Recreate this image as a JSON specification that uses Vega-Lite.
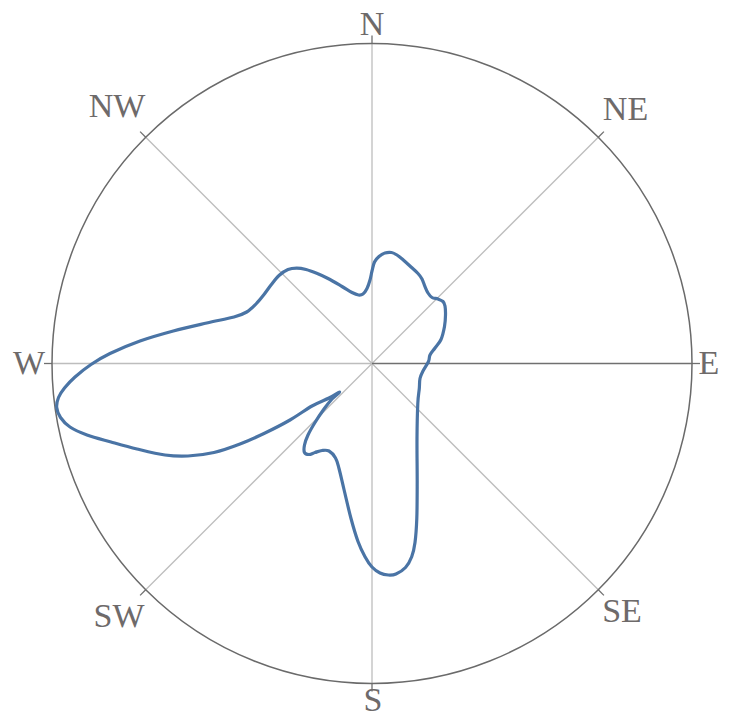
{
  "$schema": "https://vega.github.io/schema/vega-lite/v6.json",
  "width": 733,
  "height": 728,
  "autosize": {"type": "none"},
  "padding": 0,
  "config": {"view": {"stroke": null}},
  "datasets": {
    "curve": [
      {"i": 1, "x": 0, "y": 92.5}, {"i": 2, "x": 2.5, "y": 101.5}, {"i": 3, "x": 7, "y": 107},
      {"i": 4, "x": 13, "y": 110.5}, {"i": 5, "x": 19.5, "y": 111}, {"i": 6, "x": 25, "y": 108.5},
      {"i": 7, "x": 31.3, "y": 103.5}, {"i": 8, "x": 39, "y": 96.5}, {"i": 9, "x": 46, "y": 90},
      {"i": 10, "x": 50, "y": 84.5}, {"i": 11, "x": 53, "y": 76.8}, {"i": 12, "x": 56, "y": 70.5},
      {"i": 13, "x": 60, "y": 66}, {"i": 14, "x": 66, "y": 64.5}, {"i": 15, "x": 71, "y": 62},
      {"i": 16, "x": 73, "y": 57.5}, {"i": 17, "x": 73.5, "y": 48.5}, {"i": 18, "x": 72.5, "y": 37},
      {"i": 19, "x": 69, "y": 24}, {"i": 20, "x": 63, "y": 15.5},
      {"i": 21, "x": 58, "y": 8.5}, {"i": 22, "x": 56.5, "y": 2}, 
      {"i": 23, "x": 51, "y": -7.5}, {"i": 24, "x": 48, "y": -15},
      {"i": 25, "x": 47.3, "y": -25}, {"i": 26, "x": 45.8, "y": -40},
      {"i": 27, "x": 45, "y": -75}, {"i": 28, "x": 45.2, "y": -120}, {"i": 29, "x": 44.8, "y": -155},
      {"i": 30, "x": 43, "y": -179}, {"i": 31, "x": 39.7, "y": -193.2}, {"i": 32, "x": 33.5, "y": -204},
      {"i": 33, "x": 24, "y": -210.5}, {"i": 34, "x": 16.3, "y": -211.5},
      {"i": 35, "x": 8, "y": -209.5}, {"i": 36, "x": 0, "y": -203.5},
      {"i": 37, "x": -7, "y": -193.2}, {"i": 38, "x": -14, "y": -178},
      {"i": 39, "x": -21, "y": -155}, {"i": 40, "x": -28, "y": -126},
      {"i": 41, "x": -33, "y": -105}, {"i": 42, "x": -36.5, "y": -94.5},
      {"i": 43, "x": -43, "y": -87.5}, {"i": 44, "x": -50, "y": -87}, {"i": 45, "x": -57, "y": -89},
      {"i": 46, "x": -63, "y": -91}, {"i": 47, "x": -67.5, "y": -89},
      {"i": 48, "x": -67.5, "y": -81.5}, {"i": 49, "x": -64, "y": -71.5},
      {"i": 50, "x": -57, "y": -59}, {"i": 51, "x": -48, "y": -45.5},
      {"i": 52, "x": -40, "y": -35.5}, {"i": 53, "x": -32.5, "y": -28.5}, {"i": 54, "x": -43, "y": -34.5},
      {"i": 55, "x": -60, "y": -42.5}, {"i": 56, "x": -82, "y": -56.5},
      {"i": 57, "x": -107, "y": -69.5}, {"i": 58, "x": -132, "y": -80.5},
      {"i": 59, "x": -158, "y": -89}, {"i": 60, "x": -184, "y": -92.5},
      {"i": 61, "x": -207, "y": -91.5}, {"i": 62, "x": -235, "y": -85.5},
      {"i": 63, "x": -261, "y": -78.5}, {"i": 64, "x": -285, "y": -71.5},
      {"i": 65, "x": -302, "y": -63.5}, {"i": 66, "x": -311.5, "y": -54},
      {"i": 67, "x": -315.3, "y": -44}, {"i": 68, "x": -313.5, "y": -34},
      {"i": 69, "x": -307.5, "y": -24.5}, {"i": 70, "x": -297, "y": -13.5},
      {"i": 71, "x": -281, "y": -1}, {"i": 72, "x": -262, "y": 10},
      {"i": 73, "x": -232, "y": 22.5}, {"i": 74, "x": -198.7, "y": 32.5},
      {"i": 75, "x": -165.3, "y": 40.5}, {"i": 76, "x": -138, "y": 46.5},
      {"i": 77, "x": -125.3, "y": 51.5}, {"i": 78, "x": -116, "y": 59.5},
      {"i": 79, "x": -108, "y": 69}, {"i": 80, "x": -101, "y": 78.5},
      {"i": 81, "x": -93, "y": 88}, {"i": 82, "x": -84, "y": 94}, {"i": 83, "x": -75.3, "y": 95.4},
      {"i": 84, "x": -66, "y": 94}, {"i": 85, "x": -55.3, "y": 90.2}, {"i": 86, "x": -44, "y": 85},
      {"i": 87, "x": -30, "y": 77}, {"i": 88, "x": -20, "y": 71},
      {"i": 89, "x": -13.5, "y": 68.5}, {"i": 90, "x": -9, "y": 69.5},
      {"i": 91, "x": -5, "y": 75}, {"i": 92, "x": -2, "y": 83.5}
    ],
    "lightSpokes": [
      {"x": 0, "y": 320, "x2": 0, "y2": -320},
      {"x": -320, "y": 0, "x2": 0, "y2": 0},
      {"x": -226.3, "y": 226.3, "x2": 226.3, "y2": -226.3},
      {"x": -226.3, "y": -226.3, "x2": 226.3, "y2": 226.3}
    ],
    "darkSpokes": [
      {"x": 0, "y": 0, "x2": 320, "y2": 0}
    ],
    "ticks": [
      {"x": 0, "y": 320, "x2": 0, "y2": 328},
      {"x": 226.3, "y": 226.3, "x2": 231.9, "y2": 231.9},
      {"x": 320, "y": 0, "x2": 328, "y2": 0},
      {"x": 226.3, "y": -226.3, "x2": 231.9, "y2": -231.9},
      {"x": 0, "y": -320, "x2": 0, "y2": -328},
      {"x": -226.3, "y": -226.3, "x2": -231.9, "y2": -231.9},
      {"x": -320, "y": 0, "x2": -328, "y2": 0},
      {"x": -226.3, "y": 226.3, "x2": -231.9, "y2": 231.9}
    ],
    "ring": [{"x": 0, "y": 0}],
    "labels": [
      {"label": "N", "x": 0, "y": 338.5},
      {"label": "NE", "x": 253.5, "y": 253.5},
      {"label": "E", "x": 337, "y": 0},
      {"label": "SE", "x": 250, "y": -248.5},
      {"label": "S", "x": 1, "y": -337.5},
      {"label": "SW", "x": -253, "y": -253},
      {"label": "W", "x": -343, "y": 0},
      {"label": "NW", "x": -255, "y": 256.5}
    ]
  },
  "layer": [
    {
      "data": {"name": "lightSpokes"},
      "mark": {"type": "rule", "color": "#bdbdbd", "strokeWidth": 1.3},
      "encoding": {
        "x": {"field": "x", "type": "quantitative", "scale": {"domain": [-372, 361], "nice": false, "zero": false}, "axis": null},
        "y": {"field": "y", "type": "quantitative", "scale": {"domain": [-364.5, 363.5], "nice": false, "zero": false}, "axis": null},
        "x2": {"field": "x2"},
        "y2": {"field": "y2"}
      }
    },
    {
      "data": {"name": "darkSpokes"},
      "mark": {"type": "rule", "color": "#707070", "strokeWidth": 1.3},
      "encoding": {
        "x": {"field": "x", "type": "quantitative"},
        "y": {"field": "y", "type": "quantitative"},
        "x2": {"field": "x2"},
        "y2": {"field": "y2"}
      }
    },
    {
      "data": {"name": "ticks"},
      "mark": {"type": "rule", "color": "#707070", "strokeWidth": 1.3},
      "encoding": {
        "x": {"field": "x", "type": "quantitative"},
        "y": {"field": "y", "type": "quantitative"},
        "x2": {"field": "x2"},
        "y2": {"field": "y2"}
      }
    },
    {
      "data": {"name": "ring"},
      "mark": {"type": "point", "shape": "circle", "size": 409600, "filled": false, "stroke": "#6a6a6a", "strokeWidth": 1.5, "opacity": 1},
      "encoding": {
        "x": {"field": "x", "type": "quantitative"},
        "y": {"field": "y", "type": "quantitative"}
      }
    },
    {
      "data": {"name": "curve"},
      "mark": {"type": "line", "interpolate": "cardinal-closed", "color": "#4a74a5", "strokeWidth": 3.2},
      "encoding": {
        "x": {"field": "x", "type": "quantitative"},
        "y": {"field": "y", "type": "quantitative"},
        "order": {"field": "i", "type": "quantitative"}
      }
    },
    {
      "data": {"name": "labels"},
      "mark": {"type": "text", "font": "Liberation Serif", "fontSize": 34, "color": "#6e6a6a", "align": "center", "baseline": "middle"},
      "encoding": {
        "x": {"field": "x", "type": "quantitative"},
        "y": {"field": "y", "type": "quantitative"},
        "text": {"field": "label"}
      }
    }
  ]
}
